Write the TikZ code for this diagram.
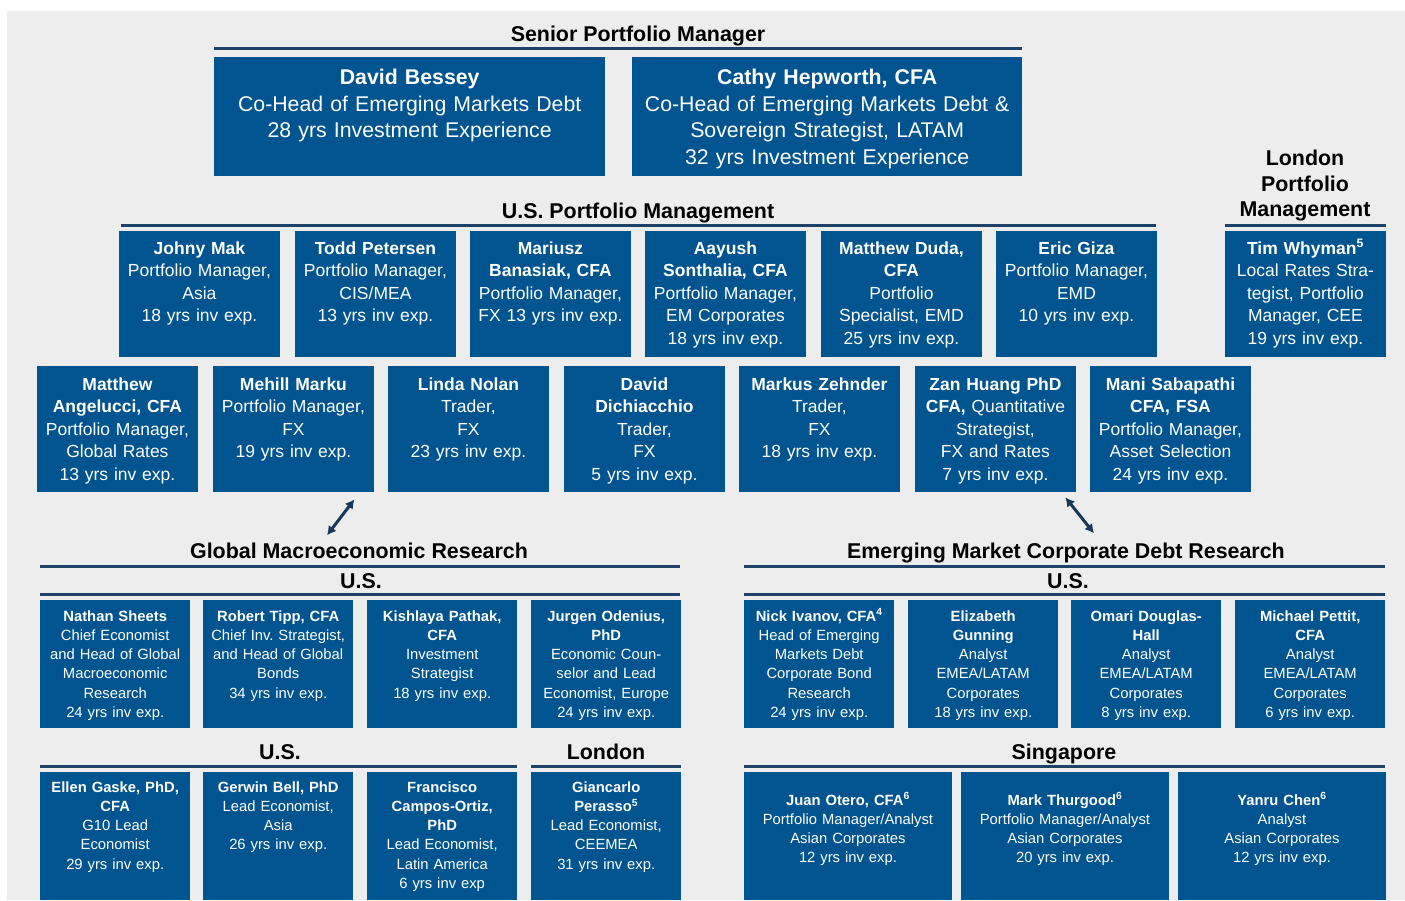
\documentclass[tikz,border=0pt]{standalone}
\usepackage{fontspec}
\setmainfont{Liberation Sans}
\usepackage{xcolor}
\usepackage{tikz}
\usetikzlibrary{arrows.meta}
\definecolor{boxblue}{RGB}{0, 84, 143}
\definecolor{rulenavy}{RGB}{30, 65, 105}
\definecolor{arrownavy}{RGB}{25, 55, 90}
\definecolor{pagegray}{RGB}{237, 237, 237}
\frenchspacing

\tikzset{
    head/.style={font=\bfseries\fontsize{21.4}{25.5}\selectfont, inner sep=0pt, anchor=base, align=center},
    rule/.style={draw=rulenavy, line width=3pt},
    lead/.style={fill=boxblue, text=white, anchor=north west, inner sep=0pt, align=center,
        font=\fontsize{21.3}{26.5}\selectfont, text width=391pt, text height=27.5pt, text depth=91.5pt},
    pm/.style={fill=boxblue, text=white, anchor=north west, inner sep=0pt, align=center,
        font=\fontsize{17.5}{22.5}\selectfont, text width=160.5pt, text height=23pt, text depth=103pt},
    res/.style={fill=boxblue, text=white, anchor=north west, inner sep=0pt, align=center,
        font=\fontsize{14.8}{19.2}\selectfont, text width=150pt, text height=21pt, text depth=107pt},
    link/.style={draw=arrownavy, line width=3pt, {Latex[length=9pt,width=10pt]}-{Latex[length=9pt,width=10pt]}}
}

\begin{document}
\begin{tikzpicture}[x=1pt, y=-1pt]
    \useasboundingbox (0,0) rectangle (1405,900);
    \fill[pagegray] (7,11) rectangle (1405,900);

    % senior portfolio managers
    \node[head] (senior) at (638,41.5) {Senior Portfolio Manager};
    \draw[rule] (214,48) -- (1022,48);
    \node[lead] (bessey) at (214,57) {\textbf{David Bessey}\\Co-Head of Emerging Markets Debt\\28 yrs Investment Experience};
    \node[lead, text width=390pt] (hepworth) at (632,57) {\textbf{Cathy Hepworth, CFA}\\Co-Head of Emerging Markets Debt \&\\Sovereign Strategist, LATAM\\32 yrs Investment Experience};

    % portfolio management
    \node[head] (uspm) at (638,218.5) {U.S. Portfolio Management};
    \draw[rule] (121,225) -- (1156,225);
    \node[head, anchor=south] (londonpm) at (1305,221.5) {London\\Portfolio\\Management};
    \draw[rule] (1225,225) -- (1386,225);

    \node[pm] (mak) at (119,231) {\textbf{Johny Mak}\\Portfolio Manager,\\Asia\\18 yrs inv exp.};
    \node[pm] (petersen) at (295,231) {\textbf{Todd Petersen}\\Portfolio Manager,\\CIS/MEA\\13 yrs inv exp.};
    \node[pm] (banasiak) at (470,231) {\textbf{Mariusz}\\\textbf{Banasiak, CFA}\\Portfolio Manager,\\FX 13 yrs inv exp.};
    \node[pm] (sonthalia) at (645,231) {\textbf{Aayush}\\\textbf{Sonthalia, CFA}\\Portfolio Manager,\\EM Corporates\\18 yrs inv exp.};
    \node[pm] (duda) at (821,231) {\textbf{Matthew Duda,}\\\textbf{CFA}\\Portfolio\\Specialist, EMD\\25 yrs inv exp.};
    \node[pm] (giza) at (996,231) {\textbf{Eric Giza}\\Portfolio Manager,\\EMD\\10 yrs inv exp.};
    \node[pm] (whyman) at (1225,231) {\textbf{Tim Whyman\textsuperscript{5}}\\Local Rates Stra-\\tegist, Portfolio\\Manager, CEE\\19 yrs inv exp.};

    \node[pm, text height=24pt, text depth=102pt] (angelucci) at (37,366) {\textbf{Matthew}\\\textbf{Angelucci, CFA}\\Portfolio Manager,\\Global Rates\\13 yrs inv exp.};
    \node[pm, text height=24pt, text depth=102pt] (marku) at (213,366) {\textbf{Mehill Marku}\\Portfolio Manager,\\FX\\19 yrs inv exp.};
    \node[pm, text height=24pt, text depth=102pt] (nolan) at (388,366) {\textbf{Linda Nolan}\\Trader,\\FX\\23 yrs inv exp.};
    \node[pm, text height=24pt, text depth=102pt] (dichiacchio) at (564,366) {\textbf{David}\\\textbf{Dichiacchio}\\Trader,\\FX\\5 yrs inv exp.};
    \node[pm, text height=24pt, text depth=102pt] (zehnder) at (739,366) {\textbf{Markus Zehnder}\\Trader,\\FX\\18 yrs inv exp.};
    \node[pm, text height=24pt, text depth=102pt] (huang) at (915,366) {\textbf{Zan Huang PhD}\\\textbf{CFA,} Quantitative\\Strategist,\\FX and Rates\\7 yrs inv exp.};
    \node[pm, text height=24pt, text depth=102pt] (sabapathi) at (1090,366) {\textbf{Mani Sabapathi}\\\textbf{CFA, FSA}\\Portfolio Manager,\\Asset Selection\\24 yrs inv exp.};

    % research
    \node[head] (gmr) at (359,558.5) {Global Macroeconomic Research};
    \draw[rule] (40,566) -- (680,566);
    \node[head] (gmrus) at (361,588.5) {U.S.};
    \draw[rule] (40,594) -- (680,594);
    \node[head] (emcd) at (1066,558.5) {Emerging Market Corporate Debt Research};
    \draw[rule] (744,566) -- (1385,566);
    \node[head] (emcdus) at (1068,588.5) {U.S.};
    \draw[rule] (744,594) -- (1385,594);

    \draw[link] ([shift={(-19.5,7)}]marku.south east) -- ([shift={(-32,-7.5)}]gmr.north);
    \draw[link] ([shift={(-10.5,5)}]huang.south east) -- ([shift={(28,-9.5)}]emcd.north);

    \node[res] (sheets) at (40,600) {\textbf{Nathan Sheets}\\Chief Economist\\and Head of Global\\Macroeconomic\\Research\\24 yrs inv exp.};
    \node[res] (tipp) at (203,600) {\textbf{Robert Tipp, CFA}\\Chief Inv. Strategist,\\and Head of Global\\Bonds\\34 yrs inv exp.};
    \node[res] (pathak) at (367,600) {\textbf{Kishlaya Pathak,}\\\textbf{CFA}\\Investment\\Strategist\\18 yrs inv exp.};
    \node[res] (odenius) at (531,600) {\textbf{Jurgen Odenius,}\\\textbf{PhD}\\Economic Coun-\\selor and Lead\\Economist, Europe\\24 yrs inv exp.};

    \node[res] (ivanov) at (744,600) {\textbf{Nick Ivanov, CFA\textsuperscript{4}}\\Head of Emerging\\Markets Debt\\Corporate Bond\\Research\\24 yrs inv exp.};
    \node[res] (gunning) at (908,600) {\textbf{Elizabeth}\\\textbf{Gunning}\\Analyst\\EMEA/LATAM\\Corporates\\18 yrs inv exp.};
    \node[res] (douglashall) at (1071,600) {\textbf{Omari Douglas-}\\\textbf{Hall}\\Analyst\\EMEA/LATAM\\Corporates\\8 yrs inv exp.};
    \node[res] (pettit) at (1235,600) {\textbf{Michael Pettit,}\\\textbf{CFA}\\Analyst\\EMEA/LATAM\\Corporates\\6 yrs inv exp.};

    \node[head] (gmrus2) at (280,759.5) {U.S.};
    \draw[rule] (40,766) -- (517,766);
    \node[head] (gmrlon) at (606,759.5) {London};
    \draw[rule] (531,766) -- (681,766);
    \node[head] (sing) at (1064,759.5) {Singapore};
    \draw[rule] (744,766) -- (1385,766);

    \node[res, text height=20pt, text depth=108pt] (gaske) at (40,772) {\textbf{Ellen Gaske, PhD,}\\\textbf{CFA}\\G10 Lead\\Economist\\29 yrs inv exp.};
    \node[res, text height=20pt, text depth=108pt] (bell) at (203,772) {\textbf{Gerwin Bell, PhD}\\Lead Economist,\\Asia\\26 yrs inv exp.};
    \node[res, text height=20pt, text depth=108pt] (campos) at (367,772) {\textbf{Francisco}\\\textbf{Campos-Ortiz,}\\\textbf{PhD}\\Lead Economist,\\Latin America\\6 yrs inv exp};
    \node[res, text height=20pt, text depth=108pt] (perasso) at (531,772) {\textbf{Giancarlo}\\\textbf{Perasso\textsuperscript{5}}\\Lead Economist,\\CEEMEA\\31 yrs inv exp.};

    \node[res, text width=207.5pt, text height=33pt, text depth=95pt] (otero) at (744,772) {\textbf{Juan Otero, CFA\textsuperscript{6}}\\Portfolio Manager/Analyst\\Asian Corporates\\12 yrs inv exp.};
    \node[res, text width=207.5pt, text height=33pt, text depth=95pt] (thurgood) at (961,772) {\textbf{Mark Thurgood\textsuperscript{6}}\\Portfolio Manager/Analyst\\Asian Corporates\\20 yrs inv exp.};
    \node[res, text width=207.5pt, text height=33pt, text depth=95pt] (chen) at (1178,772) {\textbf{Yanru Chen\textsuperscript{6}}\\Analyst\\Asian Corporates\\12 yrs inv exp.};
\end{tikzpicture}
\end{document}
